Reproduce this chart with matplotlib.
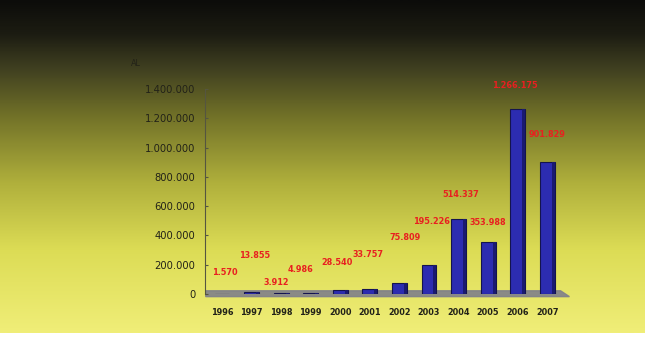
import numpy as np
import matplotlib.pyplot as plt
from matplotlib.colors import LinearSegmentedColormap

years = ['1996', '1997', '1998', '1999', '2000', '2001', '2002', '2003', '2004', '2005', '2006', '2007']
values = [1570, 13855, 3912, 4986, 28540, 33757, 75809, 195226, 514337, 353988, 1266175, 901829]
# label offsets (pixels) from each bar top
lbl_dx = [3, 3, -5, -10, -3, -2, 6, 2, 2, 0, -3, 0]
lbl_dy = [21, 36, 11, 24, 27, 35, 45, 44, 24, 20, 23, 27]

FONT = dict(family='DejaVu Sans', stretch='condensed')

fig = plt.figure(figsize=(6.5, 3.38), dpi=100)
fig.patch.set_facecolor('white')

# gradient background
bg = fig.add_axes([0, 5 / 338, 645 / 650, 333 / 338])
cmap = LinearSegmentedColormap.from_list('bg', [
    (0.0, '#0c0c0a'), (0.1, '#1c1c12'), (0.2, '#3e3e20'), (0.35, '#727228'),
    (0.55, '#b0b03c'), (0.75, '#dcdc55'), (1.0, '#f0ee78')])
grad = np.linspace(0, 1, 256).reshape(-1, 1)
bg.imshow(grad, aspect='auto', cmap=cmap, extent=[0, 1, 0, 1], origin='upper')
bg.axis('off')

ax = fig.add_axes([205 / 650, 44 / 338, 360 / 650, 205 / 338])
ax.set_facecolor('none')
x = np.arange(len(years))

# floor
ax.fill([-0.55, 11.75, 11.45, -0.55], [-18000, -18000, 22000, 22000],
        color='#80808a', alpha=0.9, zorder=1, clip_on=False)

ax.bar(x, values, width=0.5, color='#2c2cb0', edgecolor='#14144e', linewidth=0.8, zorder=3)
ax.bar(x + 0.2, values, width=0.1, color='#1a1a70', linewidth=0, zorder=4)

for i, v in enumerate(values):
    ax.annotate(f"{v:,}".replace(",", "."), (x[i], v), xytext=(lbl_dx[i], lbl_dy[i]),
                textcoords='offset pixels', ha='center', va='center',
                color='#e82020', fontsize=6.5, fontweight='bold',
                annotation_clip=False, **FONT)

ax.set_xlim(-0.575, 11.6)
ax.set_ylim(0, 1400000)
ax.set_yticks(np.arange(0, 1400001, 200000))
ax.set_yticklabels([f"{t:,}".replace(",", ".") for t in range(0, 1400001, 200000)],
                   fontsize=8, color='#222218', **FONT)
ax.set_xticks(x)
ax.set_xticklabels(years, fontsize=6.5, fontweight='bold', color='#222218', **FONT)
ax.tick_params(axis='y', direction='in', length=2, color='#555540', pad=7)
ax.tick_params(axis='x', length=0, pad=10)
for s in ['top', 'right', 'bottom']:
    ax.spines[s].set_visible(False)
ax.spines['left'].set_color('#555540')
ax.spines['left'].set_linewidth(0.8)

fig.text(131 / 650, 1 - 63 / 338, 'AL', fontsize=6.5, color='#222218', va='center', **FONT)

fig.savefig('out.png', dpi=100)
